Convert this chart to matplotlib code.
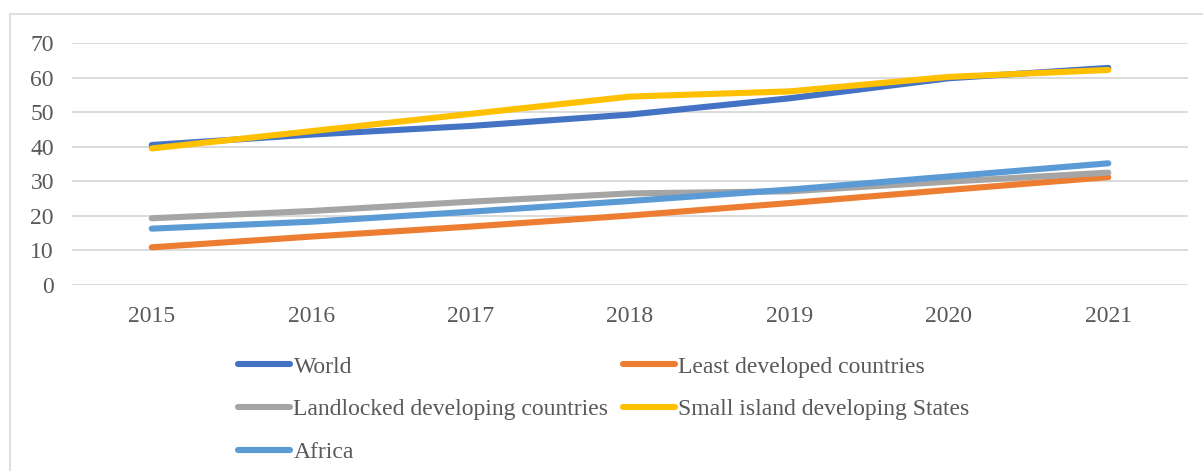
import matplotlib.pyplot as plt
from matplotlib.patches import Rectangle

years = ["2015", "2016", "2017", "2018", "2019", "2020", "2021"]
world = [40.5, 43.5, 46.0, 49.3, 54.0, 59.8, 62.8]
least_dev = [10.9, 14.0, 16.9, 20.1, 23.7, 27.5, 31.2]
landlocked = [19.3, 21.4, 24.1, 26.5, 27.1, 29.9, 32.5]
small_island = [39.5, 44.5, 49.5, 54.5, 56.0, 60.2, 62.2]
africa = [16.3, 18.3, 21.2, 24.3, 27.6, 31.4, 35.2]

labels = ["World", "Least developed countries", "Landlocked developing countries",
          "Small island developing States", "Africa"]
colors = ["#4472C4", "#ED7D31", "#A5A5A5", "#FFC000", "#5B9BD5"]
series = [world, least_dev, landlocked, small_island, africa]

plt.rcParams['font.family'] = ['Liberation Serif', 'DejaVu Serif']

W, H = 1203, 471
fig = plt.figure(figsize=(W / 100, H / 100), dpi=100)
ax = fig.add_axes([72 / W, 1 - 285 / H, (1188 - 72) / W, (285 - 43) / H])

x = list(range(len(years)))
lines = []
for s, c, lab in zip(series, colors, labels):
    ln, = ax.plot(x, s, color=c, lw=4.4, solid_capstyle='round', label=lab)
    lines.append(ln)

ax.set_xlim(-0.5, 6.5)
ax.set_ylim(0, 70)
ax.set_yticks(range(0, 71, 10))
ax.set_xticks(x)
ax.set_xticklabels(years)
ax.grid(axis='y', color='#D9D9D9', lw=1.3)
ax.set_axisbelow(True)
for sp in ax.spines.values():
    sp.set_visible(False)
ax.tick_params(length=0, labelsize=17, colors='#595959')
ax.tick_params(axis='y', pad=13)
ax.tick_params(axis='x', pad=15)

# legend: rows World/LDC, LLDC/SIDS, Africa
order = [0, 2, 4, 1, 3]
leg = fig.legend([lines[i] for i in order], [labels[i] for i in order],
                 loc='upper left', bbox_to_anchor=(238 / W, 1 - 356 / H),
                 ncol=2, frameon=False, fontsize=17, handlelength=2.2,
                 handletextpad=0.15, columnspacing=0.6, labelspacing=0.9,
                 borderaxespad=0, borderpad=0)
for t in leg.get_texts():
    t.set_color('#595959')

fig.patches.append(Rectangle((10 / W, -0.1), 1.2, 1 - 14 / H + 0.1,
                             transform=fig.transFigure, fill=False,
                             edgecolor='#D9D9D9', lw=1.2))

fig.savefig("out.png", dpi=100)
